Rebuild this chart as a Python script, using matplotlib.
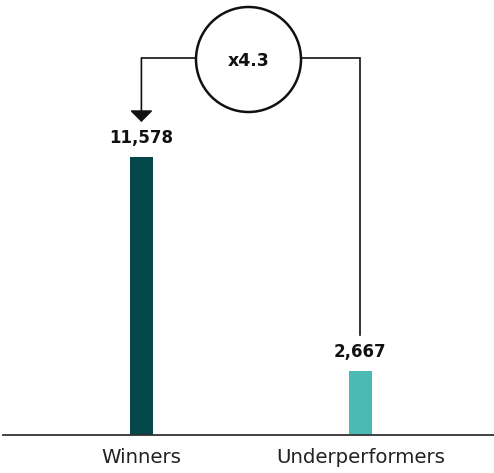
import matplotlib
matplotlib.use("Agg")
import matplotlib.pyplot as plt
import matplotlib.patches as mpatches

# values
groups = ["Winners", "Underperformers"]
values = [11578, 2667]
value_labels = ["11,578", "2,667"]
ratio_label = "x4.3"
colors = ["#04474B", "#4BBAB5"]

W, H = 494, 473
fig = plt.figure(figsize=(W / 100, H / 100), dpi=100)
plt.rcParams["font.family"] = ["DejaVu Sans"]

base_px = 435
ax = fig.add_axes([3 / W, (H - base_px) / H, 1 - 3 / W, base_px / H])
px_per_unit = 278 / 11578
ax.set_ylim(0, base_px / px_per_unit)
ax.set_xlim(-0.632, 1.61)

xs = list(range(len(groups)))
ax.bar(xs, values, width=0.105, color=colors, zorder=2)

for spine in ["top", "right", "left"]:
    ax.spines[spine].set_visible(False)
ax.spines["bottom"].set_color("#333333")
ax.spines["bottom"].set_linewidth(1.3)
ax.set_yticks([])
ax.set_xticks(xs)
ax.set_xticklabels(groups, fontsize=14.2, color="#222222")
ax.tick_params(axis="x", length=0, pad=9)

# value labels above the bars
label_off = 19 / px_per_unit
for x, v, lab in zip(xs, values, value_labels):
    ax.text(x, v + label_off, lab, ha="center", va="center",
            fontsize=12, fontweight="bold", color="#111111")

# ratio bubble with connectors
line_y = (base_px - 58) / px_per_unit
left_edge = (196 - 141.5) / 219
right_edge = (302 - 141.5) / 219
tip_y = (base_px - 122) / px_per_unit
right_end = (base_px - 335) / px_per_unit
lc = "#111111"

ax.plot([xs[0], left_edge], [line_y, line_y], color=lc, lw=1.2, solid_capstyle="butt")
ax.annotate("", xy=(xs[0], tip_y), xytext=(xs[0], line_y),
            arrowprops=dict(arrowstyle="-|>,head_length=0.7,head_width=0.7",
                            mutation_scale=10, color=lc, lw=1.2,
                            shrinkA=0, shrinkB=0))
ax.plot([right_edge, xs[1], xs[1]], [line_y, line_y, right_end],
        color=lc, lw=1.2, solid_joinstyle="miter")

circ = mpatches.Ellipse((248.5 / W, 1 - 59.5 / H), 105 / W, 105 / H,
                        transform=fig.transFigure, facecolor="white",
                        edgecolor=lc, lw=1.8)
fig.patches.append(circ)
fig.text(248.5 / W, 1 - 61 / H, ratio_label, ha="center", va="center",
         fontsize=12.5, fontweight="bold", color="#111111")

fig.savefig("out.png", dpi=100)
